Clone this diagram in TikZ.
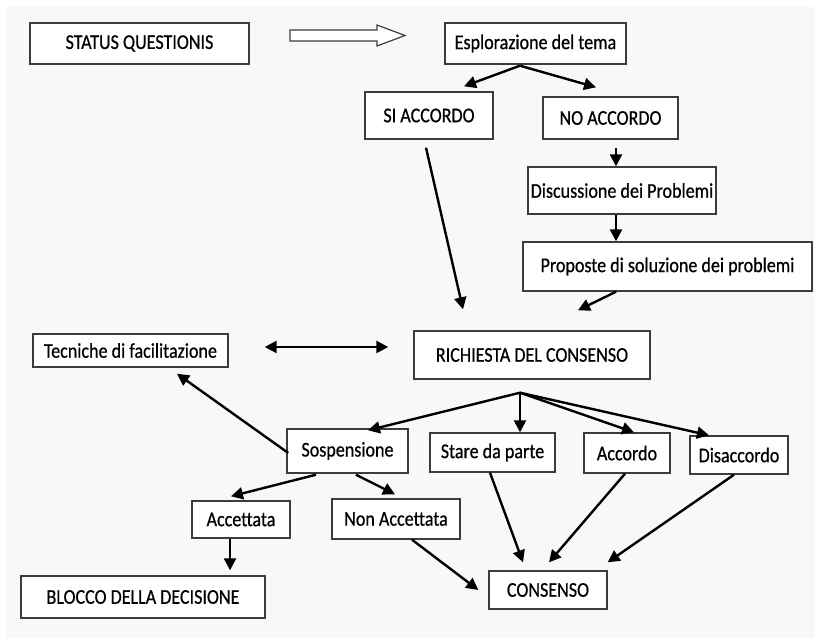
\documentclass[tikz,border=0pt]{standalone}
\usepackage{fontspec}
\setmainfont[FakeStretch=0.86,FakeBold=0.6]{Carlito}
\usetikzlibrary{arrows.meta,positioning}
\definecolor{frame}{RGB}{60,60,60}
\definecolor{paper}{RGB}{248,248,248}

\begin{document}
\begin{tikzpicture}[x=1pt,y=-1pt,font=\fontsize{21}{24}\selectfont,
  box/.style={draw=frame,line width=1.4pt,fill=white,inner sep=0pt,align=center},
  a/.style={-{Triangle[length=12pt,width=12pt]},line width=2.4pt},
  aa/.style={{Triangle[length=12pt,width=12pt]}-{Triangle[length=12pt,width=12pt]},line width=2.4pt}]
  \useasboundingbox (0,0) rectangle (815,638);
  \fill[paper] (6,7) rectangle (815,638);
  % top row
  \node[box,minimum width=219pt,minimum height=41pt] (status) at (139.5,43.5) {STATUS QUESTIONIS};
  \node[box,minimum width=181pt,minimum height=41pt] (esplor) at (535.5,43.5) {Esplorazione del tema};
  \draw[frame,line width=1.2pt,fill=white] (290,30) -- (377,30) -- (377,25) -- (405,35.5)
    -- (377,46) -- (377,41) -- (290,41) -- cycle;
  \node[box,minimum width=128pt,minimum height=47pt] (si) at (429,115.5) {SI ACCORDO};
  \node[box,minimum width=135pt,minimum height=42pt] (no) at (610.5,118) {NO ACCORDO};
  \node[box,minimum width=188pt,minimum height=47pt] (disc) at (622,190.5) {Discussione dei Problemi};
  \node[box,minimum width=289pt,minimum height=49pt] (prop) at (667.5,266.5) {Proposte di soluzione dei problemi};
  % middle
  \node[box,minimum width=195pt,minimum height=33pt] (tecn) at (130.5,350.5) {Tecniche di facilitazione};
  \node[box,minimum width=236pt,minimum height=48pt] (rich) at (532,355) {RICHIESTA DEL CONSENSO};
  \node[box,minimum width=121pt,minimum height=44pt] (sosp) at (347.5,451) {Sospensione};
  \node[box,minimum width=125pt,minimum height=39pt] (stare) at (492.5,452.5) {Stare da parte};
  \node[box,minimum width=86pt,minimum height=40pt] (accordo) at (627,453) {Accordo};
  \node[box,minimum width=98pt,minimum height=38pt] (disacc) at (739,455) {Disaccordo};
  % bottom
  \node[box,minimum width=98pt,minimum height=37pt] (accett) at (241,519.5) {Accettata};
  \node[box,minimum width=128pt,minimum height=40pt] (nonacc) at (396,519) {Non Accettata};
  \node[box,minimum width=244pt,minimum height=42pt] (blocco) at (143,597) {BLOCCO DELLA DECISIONE};
  \node[box,minimum width=118pt,minimum height=38pt] (consenso) at (548,590) {CONSENSO};
  % forks
  \coordinate (f1) at ([xshift=-15.5pt,yshift=-1pt]esplor.south);
  \coordinate (f2) at ([xshift=-12pt,yshift=-13pt]rich.south);
  \draw[a] (f1) -- ([xshift=35pt,yshift=5pt]si.north);
  \draw[a] (f1) -- ([xshift=-14.5pt,yshift=9pt]no.north);
  \draw[a] ([xshift=5.5pt,yshift=-8pt]no.south) -- ([xshift=-6pt]disc.north);
  \draw[a] ([xshift=-6pt]disc.south) -- ([xshift=-51.5pt]prop.north);
  \draw[a] ([xshift=-51.5pt]prop.south) -- ([xshift=46pt,yshift=20pt]rich.north);
  \draw[a] ([xshift=-3pt,yshift=-8pt]si.south) -- ([xshift=-69pt,yshift=21pt]rich.north);
  \draw[aa] ([xshift=36pt,yshift=3.5pt]tecn.east) -- ([xshift=-25pt,yshift=8pt]rich.west);
  \draw[a] (f2) -- ([xshift=20.5pt,yshift=-2pt]sosp.north);
  \draw[a] (f2) -- ([xshift=27.5pt]stare.north);
  \draw[a] (f2) -- ([xshift=7pt]accordo.north);
  \draw[a] (f2) -- ([xshift=-30pt]disacc.north);
  \draw[a] ([xshift=2pt,yshift=-2pt]sosp.west) -- ([xshift=46.5pt,yshift=-6pt]tecn.south);
  \draw[a] ([xshift=-31.5pt,yshift=-1pt]sosp.south) -- ([xshift=-10pt,yshift=4pt]accett.north);
  \draw[a] ([xshift=8.5pt,yshift=-1pt]sosp.south) -- ([xshift=-1pt,yshift=4pt]nonacc.north);
  \draw[a] ([xshift=-11pt]accett.south) -- ([xshift=87pt,yshift=5pt]blocco.north);
  \draw[a] ([xshift=16pt]nonacc.south) -- ([xshift=-10pt]consenso.west);
  \draw[a] ([xshift=-2.5pt]stare.south) -- ([xshift=-25pt,yshift=8pt]consenso.north);
  \draw[a] ([xshift=-2pt]accordo.south) -- ([xshift=1pt,yshift=8pt]consenso.north);
  \draw[a] ([xshift=-5pt]disacc.south) -- ([yshift=8pt]consenso.north east);
\end{tikzpicture}
\end{document}
